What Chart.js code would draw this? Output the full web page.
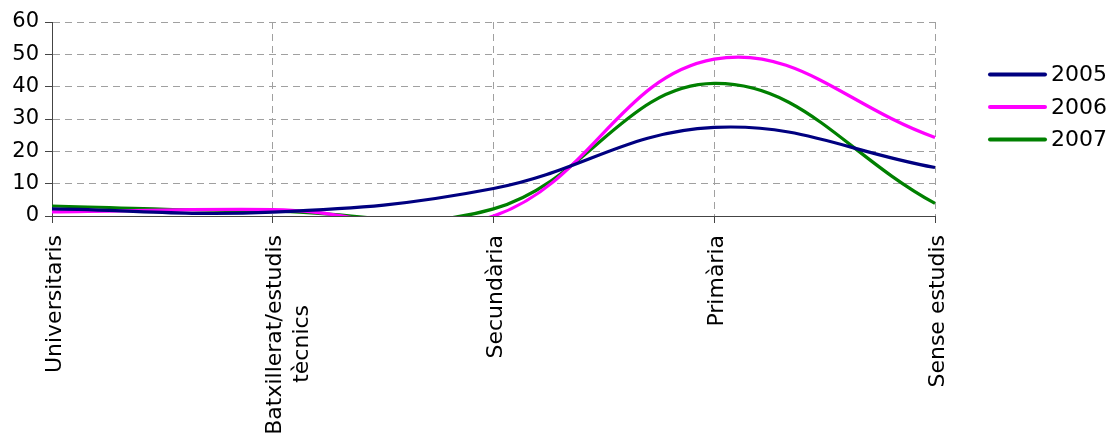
<!DOCTYPE html>
<html>
<head>
<meta charset="utf-8">
<script src="https://cdn.jsdelivr.net/npm/chart.js@4/dist/chart.umd.min.js"></script>
<style>
  html, body { margin: 0; padding: 0; background: #fff; }
  #wrap { width: 1109px; height: 436px; }
</style>
</head>
<body>
<div id="wrap"><canvas id="eduChart"></canvas></div>
<script>
// Categories and series
// (trailing spaces keep the second line centred under the first, as in Excel)
const categories = ['Universitaris', ['Batxillerat/estudis', 'tècnics          '], 'Secundària', 'Primària', 'Sense estudis'];
const years = ['2005', '2006', '2007'];
const values2005 = [2.2, 1.2, 8.5, 27.4, 15.0];
const values2006 = [1.3, 2.0, 0.0, 48.5, 24.3];
const values2007 = [3.1, 1.5, 2.2, 41.0, 3.9];
const yTicks = [0, 10, 20, 30, 40, 50, 60];
const colors = ['#000080', '#ff00ff', '#008000'];

Chart.defaults.font.family = "'DejaVu Sans', Verdana, sans-serif";
Chart.defaults.color = '#000';

function makeSet(label, data, color) {
    return {
        label: label,
        data: data,
        borderColor: color,
        backgroundColor: color,
        borderWidth: 3.2,
        tension: 0.4,
        capBezierPoints: false,
        pointRadius: 0,
        fill: false
    };
}

// Legend drawn by hand so it sits where Excel put it
const sideLegend = {
    id: 'sideLegend',
    afterDraw: function (chart) {
        const ctx = chart.ctx;
        const area = chart.chartArea;
        const x0 = area.right + 55;
        const yMid = (area.top + area.bottom) / 2 - 12;
        const step = 32.5;
        ctx.save();
        ctx.font = "22px 'DejaVu Sans'";
        ctx.textBaseline = 'middle';
        chart.data.datasets.forEach(function (ds, i) {
            const y = yMid + (i - 1) * step;
            ctx.strokeStyle = ds.borderColor;
            ctx.lineWidth = 4;
            ctx.lineCap = 'round';
            ctx.beginPath();
            ctx.moveTo(x0, y);
            ctx.lineTo(x0 + 55, y);
            ctx.stroke();
            ctx.fillStyle = '#000';
            ctx.fillText(ds.label, x0 + 61, y + 1);
        });
        ctx.restore();
    }
};

new Chart(document.getElementById('eduChart'), {
    type: 'line',
    data: {
        labels: categories,
        datasets: [
            makeSet(years[0], values2005, colors[0]),
            makeSet(years[1], values2006, colors[1]),
            makeSet(years[2], values2007, colors[2])
        ]
    },
    options: {
        responsive: true,
        maintainAspectRatio: false,
        animation: false,
        layout: {
            padding: { top: 22, right: 174, bottom: 0, left: 0 }
        },
        plugins: {
            legend: { display: false },
            tooltip: { enabled: false }
        },
        scales: {
            x: {
                offset: false,
                grid: {
                    color: '#a0a0a0',
                    lineWidth: 1,
                    tickColor: '#444',
                    tickLength: 7
                },
                border: { color: '#444', width: 1, dash: [7, 5] },
                ticks: {
                    minRotation: 90,
                    maxRotation: 90,
                    autoSkip: false,
                    padding: 12,
                    labelOffset: 3,
                    font: { size: 22 }
                },
                afterFit: function (scale) { scale.height = 220; }
            },
            y: {
                min: yTicks[0],
                max: yTicks[yTicks.length - 1],
                afterBuildTicks: function (scale) {
                    scale.ticks = yTicks.map(function (v) { return { value: v }; });
                },
                grid: {
                    color: '#a0a0a0',
                    lineWidth: 1,
                    tickColor: '#444',
                    tickLength: 7
                },
                border: { color: '#444', width: 1, dash: [7, 5] },
                ticks: {
                    padding: 6,
                    font: { size: 21 }
                },
                afterFit: function (scale) { scale.width = 52; }
            }
        }
    },
    plugins: [sideLegend]
});
</script>
</body>
</html>
